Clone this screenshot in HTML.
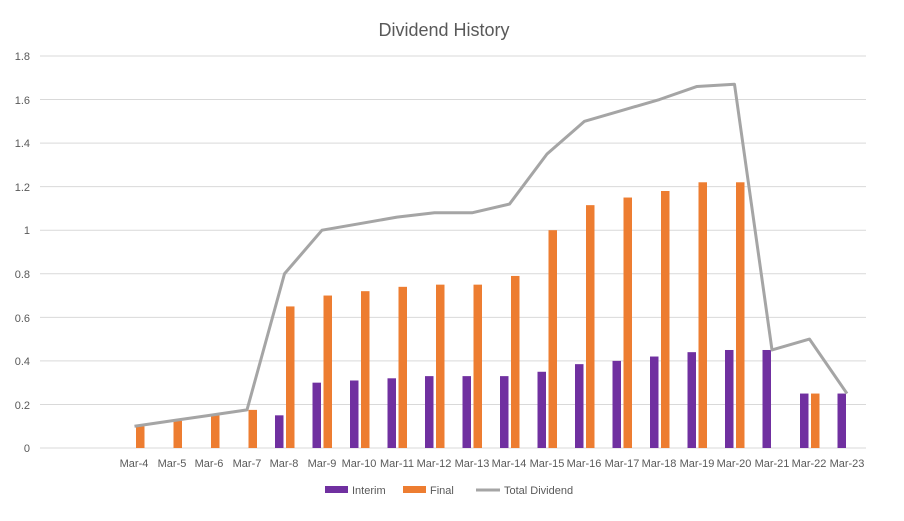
<!DOCTYPE html>
<html><head><meta charset="utf-8"><style>
body{margin:0;background:#fff}
svg{display:block;font-family:"Liberation Sans",sans-serif}
</style></head><body>
<svg id="c" width="904" height="521" viewBox="0 0 904 521">
<rect width="904" height="521" fill="#fff"/>
<text x="444" y="36" font-size="18" fill="#595959" text-anchor="middle">Dividend History</text>
<g font-size="11" fill="#595959" text-anchor="end">
<text x="30" y="60">1.8</text><text x="30" y="104">1.6</text><text x="30" y="147">1.4</text>
<text x="30" y="191">1.2</text><text x="30" y="234">1</text><text x="30" y="278">0.8</text>
<text x="30" y="322">0.6</text><text x="30" y="365">0.4</text><text x="30" y="409">0.2</text>
<text x="30" y="452">0</text>
</g>
<g id="grid" stroke="#d9d9d9" stroke-width="1"></g>
<g id="bars"></g>
<polyline id="ln" fill="none" stroke="#a5a5a5" stroke-width="3" stroke-linejoin="round"/>
<g font-size="11" fill="#595959" text-anchor="middle">
<text x="134" y="467">Mar-4</text><text x="172" y="467">Mar-5</text><text x="209" y="467">Mar-6</text>
<text x="247" y="467">Mar-7</text><text x="284" y="467">Mar-8</text><text x="322" y="467">Mar-9</text>
<text x="359" y="467">Mar-10</text><text x="397" y="467">Mar-11</text><text x="434" y="467">Mar-12</text>
<text x="472" y="467">Mar-13</text><text x="509" y="467">Mar-14</text><text x="547" y="467">Mar-15</text>
<text x="584" y="467">Mar-16</text><text x="622" y="467">Mar-17</text><text x="659" y="467">Mar-18</text>
<text x="697" y="467">Mar-19</text><text x="734" y="467">Mar-20</text><text x="772" y="467">Mar-21</text>
<text x="809" y="467">Mar-22</text><text x="847" y="467">Mar-23</text>
</g>
<g font-size="11" fill="#595959">
<rect x="325" y="486" width="23" height="7" fill="#7030a0"/><text x="352" y="494">Interim</text>
<rect x="403" y="486" width="23" height="7" fill="#ed7d31"/><text x="430" y="494">Final</text>
<line x1="476" y1="490" x2="500" y2="490" stroke="#a5a5a5" stroke-width="3"/><text x="504" y="494">Total Dividend</text>
</g>
</svg>
<script>
var ns="http://www.w3.org/2000/svg";
function Y(v){return 448-v*217.8;}
var g=document.getElementById('grid');
for(var i=0;i<=9;i++){var l=document.createElementNS(ns,'line');var y=Y(i*0.2);
l.setAttribute('x1',40);l.setAttribute('x2',866);l.setAttribute('y1',y);l.setAttribute('y2',y);g.appendChild(l);}
var T=[.1,.125,.15,.175,.8,1,1.03,1.06,1.08,1.08,1.12,1.35,1.5,1.55,1.6,1.66,1.67,.45,.5,.25];
var I=[0,0,0,0,.15,.3,.31,.32,.33,.33,.33,.35,.385,.4,.42,.44,.45,.45,.25,.25];
var F=[.1,.125,.15,.175,.65,.7,.72,.74,.75,.75,.79,1,1.115,1.15,1.18,1.22,1.22,0,.25,0];
var b=document.getElementById('bars'),pts=[];
for(var k=0;k<20;k++){var c=40.75+37.5*(k+2.5);
pts.push(c+','+Y(T[k]));
[[I[k],c-9.5,'#7030a0'],[F[k],c+1.5,'#ed7d31']].forEach(function(d){if(!d[0])return;
var r=document.createElementNS(ns,'rect');r.setAttribute('x',d[1]);r.setAttribute('width',8.5);
r.setAttribute('y',Y(d[0]));r.setAttribute('height',448-Y(d[0]));r.setAttribute('fill',d[2]);b.appendChild(r);});}
document.getElementById('ln').setAttribute('points',pts.join(' '));
</script>
</body></html>
